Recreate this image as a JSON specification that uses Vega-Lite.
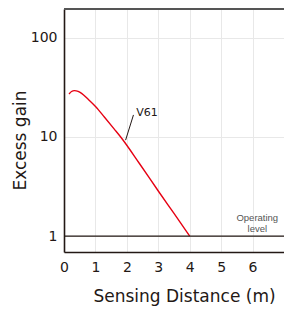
{
  "$schema": "https://vega.github.io/schema/vega-lite/v6.json",
  "width": 220,
  "height": 243,
  "autosize": {"type": "none"},
  "padding": {"left": 64, "top": 9, "right": 0, "bottom": 59},
  "background": "white",
  "config": {
    "view": {"stroke": null},
    "font": "DejaVu Sans",
    "axis": {"labelFont": "DejaVu Sans", "titleFont": "DejaVu Sans", "labelColor": "#231815", "titleColor": "#231815", "titleFontWeight": "normal"}
  },
  "datasets": {
    "curve": [
      {"d": 0.16, "g": 27.2},
      {"d": 0.24, "g": 28.8},
      {"d": 0.33, "g": 29.4},
      {"d": 0.45, "g": 28.9},
      {"d": 0.56, "g": 27.6},
      {"d": 0.77, "g": 24.0},
      {"d": 1.01, "g": 20.2},
      {"d": 1.29, "g": 15.8},
      {"d": 1.6, "g": 12.0},
      {"d": 1.81, "g": 9.93},
      {"d": 2.4, "g": 5.4},
      {"d": 3.0, "g": 2.85},
      {"d": 3.5, "g": 1.69},
      {"d": 4.0, "g": 1.0}
    ],
    "op": [{"d": 0, "d2": 7, "g": 1}],
    "top": [{"d": 0, "d2": 7, "g": 196}],
    "leader": [{"d": 1.96, "g": 9.3, "d2": 2.21, "g2": 16.7}],
    "lab": [{"d": 2.3, "g": 17.5, "t": "V61"}],
    "oplab": [{"d": 6.15, "g": 1.53, "t": "Operating"}, {"d": 6.15, "g": 1.177, "t": "level"}]
  },
  "encoding": {
    "x": {
      "field": "d", "type": "quantitative",
      "scale": {"domain": [0, 7], "nice": false, "zero": false},
      "axis": {
        "title": "Sensing Distance (m)", "values": [0, 1, 2, 3, 4, 5, 6],
        "ticks": false, "labelPadding": 8, "labelFontSize": 14, "labelOverlap": false,
        "grid": true, "gridColor": "#e8e8e8", "gridWidth": 1,
        "domainColor": "#231815", "domainWidth": 1.6,
        "titleFontSize": 17, "titleX": 120, "titleY": 44, "titleBaseline": "middle",
        "labelFlush": false
      }
    },
    "y": {
      "field": "g", "type": "quantitative",
      "scale": {"type": "log", "domain": [0.69, 196], "nice": false},
      "axis": {
        "title": "Excess gain", "values": [1, 10, 100],
        "ticks": false, "labelPadding": 7, "labelFontSize": 14, "labelOverlap": false,
        "grid": true, "gridColor": "#e8e8e8", "gridWidth": 1,
        "domainColor": "#231815", "domainWidth": 1.6,
        "titleFontSize": 17, "titleX": -44, "titleY": 131, "titleAngle": -90,
        "titleBaseline": "middle", "titleAlign": "center",
        "labelFlush": false, "format": "d"
      }
    }
  },
  "layer": [
    {
      "data": {"name": "curve"},
      "mark": {"type": "line", "color": "#e60012", "strokeWidth": 1.4, "interpolate": "monotone"}
    },
    {
      "data": {"name": "op"},
      "mark": {"type": "rule", "color": "#231815", "strokeWidth": 1.2},
      "encoding": {"x2": {"field": "d2"}}
    },
    {
      "data": {"name": "top"},
      "mark": {"type": "rule", "color": "#555555", "strokeWidth": 2},
      "encoding": {"x2": {"field": "d2"}}
    },
    {
      "data": {"name": "leader"},
      "mark": {"type": "rule", "color": "#231815", "strokeWidth": 1},
      "encoding": {"x2": {"field": "d2"}, "y2": {"field": "g2"}}
    },
    {
      "data": {"name": "lab"},
      "mark": {"type": "text", "align": "left", "baseline": "middle", "fontSize": 11, "color": "#231815"},
      "encoding": {"text": {"field": "t"}}
    },
    {
      "data": {"name": "oplab"},
      "mark": {"type": "text", "align": "center", "baseline": "middle", "font": "Liberation Sans", "fontSize": 9.5, "color": "#555555"},
      "encoding": {"text": {"field": "t"}}
    }
  ]
}
